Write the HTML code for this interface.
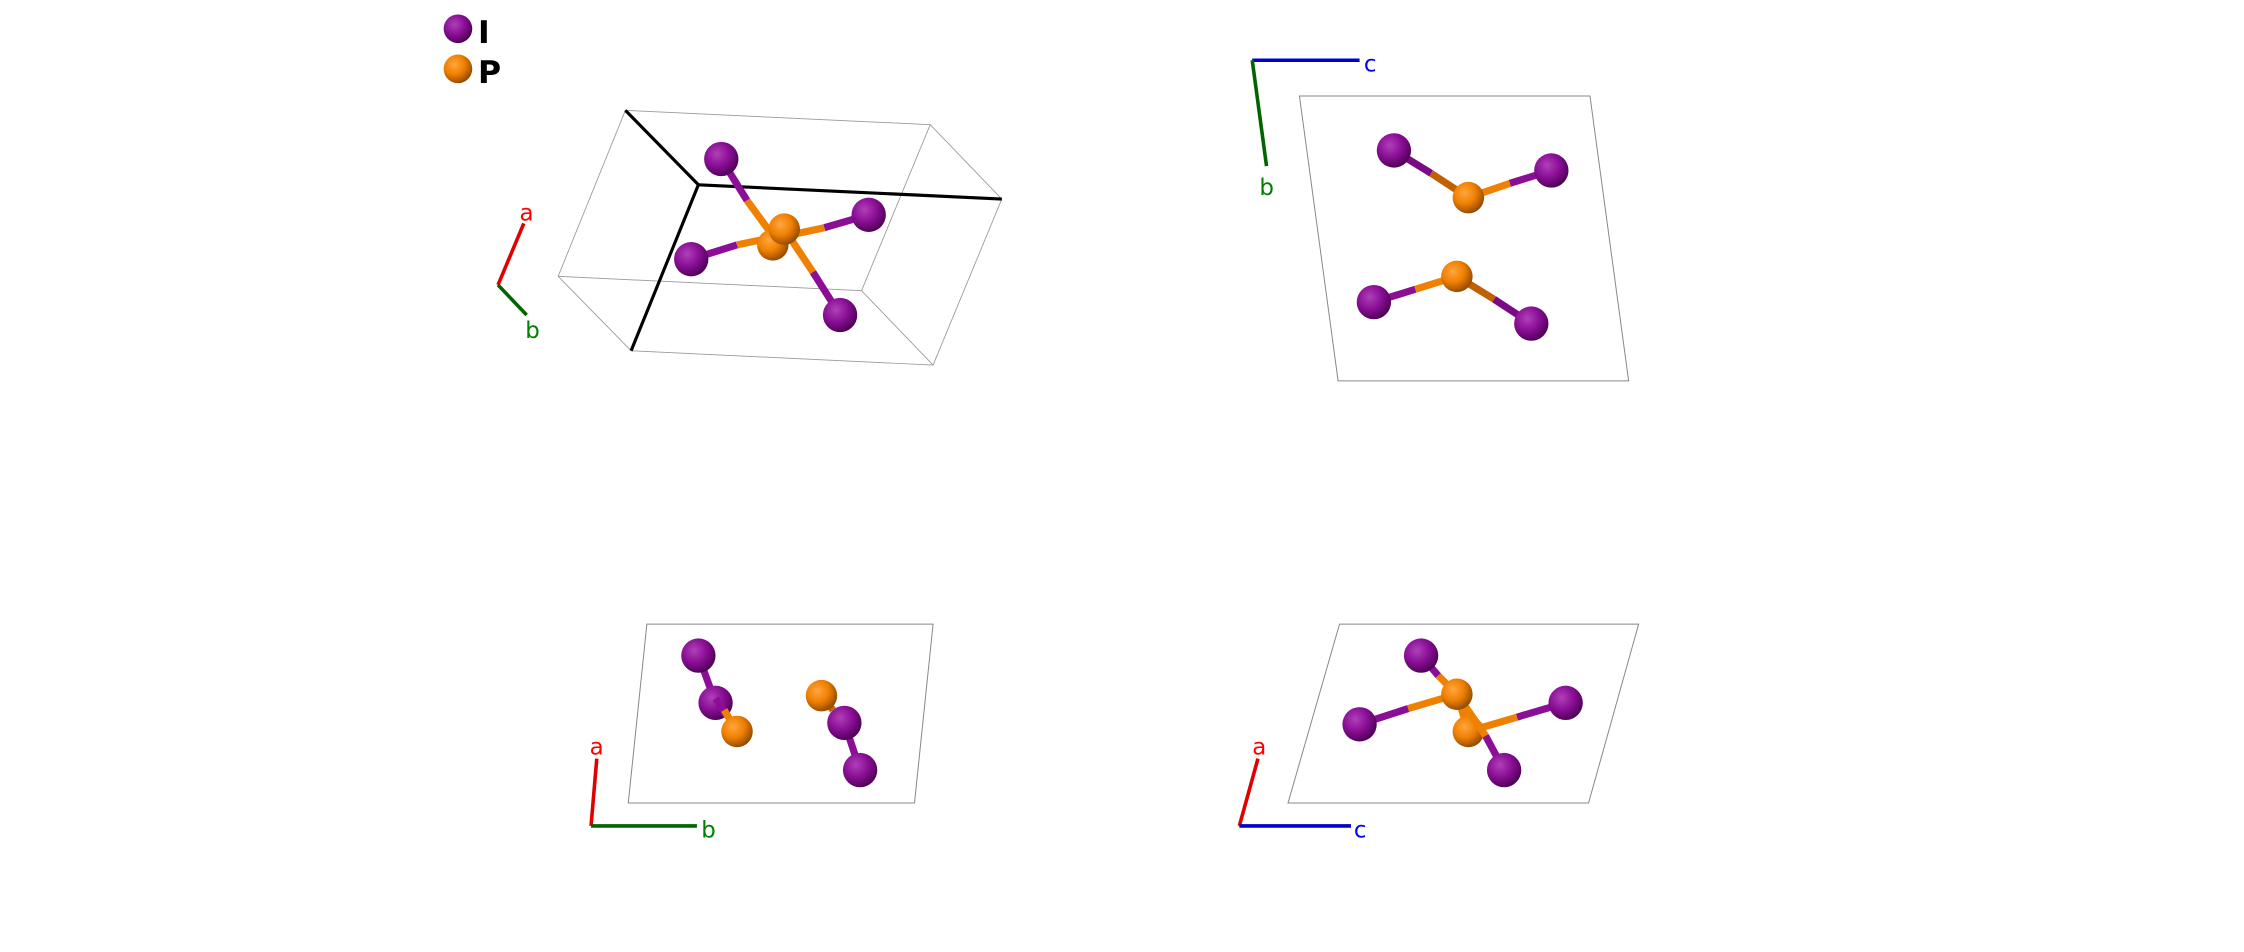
<!DOCTYPE html>
<html><head><meta charset="utf-8"><style>
html,body{margin:0;padding:0;background:#fff;}
svg{display:block;}
text{font-family:"DejaVu Sans","Liberation Sans",sans-serif;}
</style></head><body>
<svg width="2244" height="952" viewBox="0 0 1568 665" xmlns="http://www.w3.org/2000/svg">
<defs>
<radialGradient id="gI" cx="0.38" cy="0.35" r="0.7">
<stop offset="0" stop-color="#b040b8"/><stop offset="0.5" stop-color="#8a0f96"/><stop offset="1" stop-color="#4a0050"/>
</radialGradient>
<radialGradient id="gP" cx="0.38" cy="0.35" r="0.7">
<stop offset="0" stop-color="#ffa640"/><stop offset="0.5" stop-color="#f08000"/><stop offset="1" stop-color="#8a4500"/>
</radialGradient>
</defs>
<rect width="1568" height="665" fill="#fff"/>

<!-- legend -->
<circle cx="320" cy="20" r="10" fill="url(#gI)"/>
<text x="334" y="30" font-size="22" font-weight="bold">I</text>
<circle cx="320" cy="48" r="10" fill="url(#gP)"/>
<text x="334" y="58" font-size="22" font-weight="bold">P</text>

<!-- panel 1 -->
<g stroke="#999" stroke-width="0.6" fill="none">
<line x1="437" y1="77" x2="650" y2="87"/><line x1="650" y1="87" x2="700" y2="139"/>
<line x1="437" y1="77" x2="390" y2="193"/><line x1="390" y1="193" x2="441" y2="245"/>
<line x1="441" y1="245" x2="652" y2="255"/><line x1="652" y1="255" x2="700" y2="139"/>
<line x1="390" y1="193" x2="602" y2="203"/><line x1="602" y1="203" x2="650" y2="87"/>
<line x1="602" y1="203" x2="652" y2="255"/>
</g>
<g stroke="#000" stroke-width="2.2">
<line x1="437" y1="77" x2="488" y2="129"/><line x1="488" y1="129" x2="700" y2="139"/><line x1="488" y1="129" x2="441" y2="245"/>
</g>
<g stroke-width="5">
<line x1="504" y1="111" x2="522" y2="140" stroke="#8a0f96"/><line x1="522" y1="140" x2="544" y2="170" stroke="#f08000"/>
<line x1="587" y1="220" x2="568" y2="190" stroke="#8a0f96"/><line x1="568" y1="190" x2="548" y2="160" stroke="#f08000"/>
<line x1="483" y1="181" x2="515" y2="171" stroke="#8a0f96"/><line x1="515" y1="171" x2="544" y2="165" stroke="#f08000"/>
<line x1="607" y1="150" x2="576" y2="159" stroke="#8a0f96"/><line x1="576" y1="159" x2="548" y2="165" stroke="#f08000"/>
</g>
<circle cx="540" cy="171" r="11" fill="url(#gP)"/>
<circle cx="548" cy="160" r="11" fill="url(#gP)"/>
<circle cx="504" cy="111" r="12" fill="url(#gI)"/>
<circle cx="607" cy="150" r="12" fill="url(#gI)"/>
<circle cx="483" cy="181" r="12" fill="url(#gI)"/>
<circle cx="587" cy="220" r="12" fill="url(#gI)"/>
<line x1="348" y1="199" x2="366" y2="156" stroke="#e00000" stroke-width="2.5"/>
<line x1="348" y1="199" x2="368" y2="220" stroke="#006400" stroke-width="2.5"/>
<text x="363" y="154" font-size="16" fill="#f00">a</text>
<text x="367" y="236" font-size="16" fill="#008000">b</text>

<!-- panel 2 -->
<polygon points="908,67 1111,67 1138,266 935,266" fill="none" stroke="#888" stroke-width="0.7"/>
<line x1="875" y1="42" x2="950" y2="42" stroke="#0000cc" stroke-width="2.5"/>
<line x1="875" y1="42" x2="885" y2="116" stroke="#006400" stroke-width="2.5"/>
<text x="953" y="50" font-size="16" fill="#0000ff">c</text>
<text x="880" y="136" font-size="16" fill="#008000">b</text>
<g stroke-width="5">
<line x1="974" y1="105" x2="1000" y2="121" stroke="#7a0a86"/><line x1="1000" y1="121" x2="1026" y2="138" stroke="#c06000"/>
<line x1="1084" y1="119" x2="1055" y2="128" stroke="#8a0f96"/><line x1="1055" y1="128" x2="1026" y2="138" stroke="#f08000"/>
<line x1="960" y1="211" x2="989" y2="202" stroke="#8a0f96"/><line x1="989" y1="202" x2="1018" y2="193" stroke="#f08000"/>
<line x1="1070" y1="226" x2="1044" y2="209" stroke="#7a0a86"/><line x1="1044" y1="209" x2="1018" y2="193" stroke="#c06000"/>
</g>
<circle cx="974" cy="105" r="12" fill="url(#gI)"/>
<circle cx="1084" cy="119" r="12" fill="url(#gI)"/>
<circle cx="1026" cy="138" r="11" fill="url(#gP)"/>
<circle cx="960" cy="211" r="12" fill="url(#gI)"/>
<circle cx="1070" cy="226" r="12" fill="url(#gI)"/>
<circle cx="1018" cy="193" r="11" fill="url(#gP)"/>

<!-- panel 3 -->
<polygon points="452,436 652,436 639,561 439,561" fill="none" stroke="#888" stroke-width="0.7"/>
<line x1="413" y1="577" x2="417" y2="530" stroke="#e00000" stroke-width="2.5"/>
<line x1="413" y1="577" x2="487" y2="577" stroke="#006400" stroke-width="2.5"/>
<text x="412" y="527" font-size="16" fill="#f00">a</text>
<text x="490" y="585" font-size="16" fill="#008000">b</text>
<g stroke-width="5">
<line x1="488" y1="458" x2="500" y2="491" stroke="#8a0f96"/>
<circle cx="500" cy="491" r="12" fill="url(#gI)" stroke="none"/>
<line x1="500" y1="488" x2="508" y2="500" stroke="#8a0f96"/><line x1="506" y1="496" x2="515" y2="511" stroke="#f08000"/>
</g>
<circle cx="488" cy="458" r="12" fill="url(#gI)"/>
<circle cx="515" cy="511" r="11" fill="url(#gP)"/>
<g stroke-width="5">
<line x1="574" y1="486" x2="582" y2="496" stroke="#c06000"/>
<line x1="590" y1="505" x2="601" y2="538" stroke="#8a0f96"/>
</g>
<circle cx="574" cy="486" r="11" fill="url(#gP)"/>
<circle cx="590" cy="505" r="12" fill="url(#gI)"/>
<circle cx="601" cy="538" r="12" fill="url(#gI)"/>

<!-- panel 4 -->
<polygon points="936,436 1145,436 1110,561 900,561" fill="none" stroke="#888" stroke-width="0.7"/>
<line x1="866" y1="577" x2="879" y2="530" stroke="#e00000" stroke-width="2.5"/>
<line x1="866" y1="577" x2="944" y2="577" stroke="#0000cc" stroke-width="2.5"/>
<text x="875" y="527" font-size="16" fill="#f00">a</text>
<text x="946" y="585" font-size="16" fill="#0000ff">c</text>
<g stroke-width="5">
<line x1="1026" y1="511" x2="1018" y2="485" stroke="#f08000"/>
<line x1="1094" y1="491" x2="1060" y2="501" stroke="#8a0f96"/><line x1="1060" y1="501" x2="1026" y2="511" stroke="#f08000"/>
<line x1="1051" y1="538" x2="1038" y2="514" stroke="#8a0f96"/><line x1="1038" y1="514" x2="1018" y2="485" stroke="#f08000"/>
</g>
<circle cx="1026" cy="511" r="11" fill="url(#gP)"/>
<g stroke-width="5">
<line x1="993" y1="458" x2="1005" y2="472" stroke="#8a0f96"/><line x1="1005" y1="472" x2="1018" y2="485" stroke="#f08000"/>
<line x1="950" y1="506" x2="984" y2="495" stroke="#8a0f96"/><line x1="984" y1="495" x2="1018" y2="485" stroke="#f08000"/>
<line x1="1018" y1="485" x2="1038" y2="514" stroke="#f08000"/>
</g>
<circle cx="1018" cy="485" r="11" fill="url(#gP)"/>
<circle cx="993" cy="458" r="12" fill="url(#gI)"/>
<circle cx="950" cy="506" r="12" fill="url(#gI)"/>
<circle cx="1094" cy="491" r="12" fill="url(#gI)"/>
<circle cx="1051" cy="538" r="12" fill="url(#gI)"/>
</svg>
</body></html>
